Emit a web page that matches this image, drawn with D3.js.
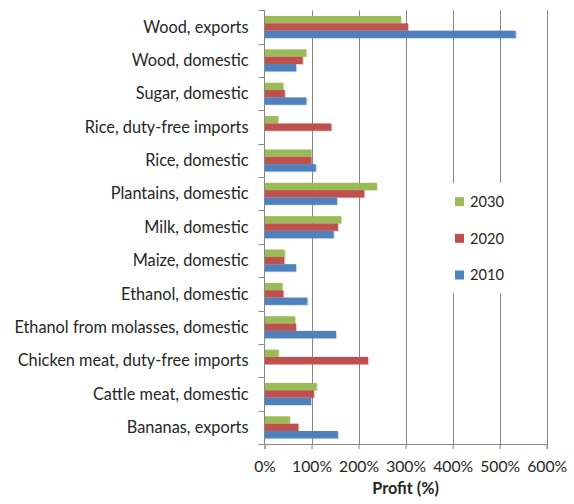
<!DOCTYPE html>
<html>
<head>
<meta charset="utf-8">
<script src="https://cdn.jsdelivr.net/npm/d3@7"></script>
<style>
  html, body { margin: 0; padding: 0; background: #fff; }
  svg { display: block; }
  text { font-family: Lato, "Open Sans", sans-serif; fill: #262626; }
</style>
</head>
<body>
<svg id="chart" width="574" height="504"></svg>
<script>
// Profit by product and year (%)
const categories = [
  "Wood, exports",
  "Wood, domestic",
  "Sugar, domestic",
  "Rice, duty-free imports",
  "Rice, domestic",
  "Plantains, domestic",
  "Milk, domestic",
  "Maize, domestic",
  "Ethanol, domestic",
  "Ethanol from molasses, domestic",
  "Chicken meat, duty-free imports",
  "Cattle meat, domestic",
  "Bananas, exports"
];
const years = ["2030", "2020", "2010"];
const values2030 = [290, 89, 40, 29, 100, 239, 163, 43, 38, 65, 30, 111, 54];
const values2020 = [305, 81, 43, 142, 100, 212, 156, 42, 40, 67, 220, 105, 72];
const values2010 = [534, 67, 89, null, 109, 154, 147, 67, 91, 152, null, 99, 156];
const xTicks = [0, 100, 200, 300, 400, 500, 600];
const colors = { "2030": "#9BBB59", "2020": "#C0504D", "2010": "#4F81BD" };
const axisTitle = "Profit (%)";

const seriesValues = { "2030": values2030, "2020": values2020, "2010": values2010 };

const svg = d3.select("#chart");
const plot = { left: 264.5, right: 546.7, top: 10.3, bottom: 444 };

const x = d3.scaleLinear().domain([0, 600]).range([plot.left, plot.right]);
const y0 = d3.scaleBand().domain(categories).range([plot.top, plot.bottom]).padding(0);
const step = y0.step();
const y1 = d3.scaleBand().domain(years).range([step * 0.17, step * 0.83]).padding(0);

// fit a text group to a target width
function fitFont(sel, longest, target, base) {
  const probe = svg.append("text").style("font-size", base + "px").text(longest);
  const w = probe.node().getComputedTextLength();
  probe.remove();
  return base * target / w;
}

// gridlines
svg.append("g").selectAll("line")
  .data(xTicks.slice(1))
  .join("line")
  .attr("x1", d => Math.round(x(d)) + 0.5).attr("x2", d => Math.round(x(d)) + 0.5)
  .attr("y1", plot.top).attr("y2", plot.bottom)
  .attr("stroke", "#878787").attr("stroke-width", 1);

// bars
const rows = categories.map((c, i) => ({
  category: c,
  bars: years.map(yr => ({ year: yr, value: seriesValues[yr][i] })).filter(b => b.value != null)
}));

const groups = svg.append("g").selectAll("g")
  .data(rows)
  .join("g")
  .attr("transform", d => `translate(0,${y0(d.category)})`);

groups.selectAll("rect.shadow")
  .data(d => d.bars)
  .join("rect")
  .attr("class", "shadow")
  .attr("x", x(0))
  .attr("y", d => y1(d.year) + 0.8)
  .attr("width", d => x(d.value) - x(0) + 1.2)
  .attr("height", y1.bandwidth())
  .attr("fill", d => colors[d.year])
  .attr("opacity", 0.3);

groups.selectAll("rect.bar")
  .data(d => d.bars)
  .join("rect")
  .attr("class", "bar")
  .attr("x", x(0))
  .attr("y", d => y1(d.year))
  .attr("width", d => x(d.value) - x(0))
  .attr("height", y1.bandwidth())
  .attr("fill", d => colors[d.year]);

// left axis with ticks at category boundaries
const leftAxis = svg.append("g");
leftAxis.append("line")
  .attr("x1", plot.left).attr("x2", plot.left)
  .attr("y1", plot.top).attr("y2", plot.bottom)
  .attr("stroke", "#878787");
const boundaries = categories.map(c => y0(c)).concat([plot.bottom]);
leftAxis.selectAll("line.tick")
  .data(boundaries)
  .join("line")
  .attr("class", "tick")
  .attr("x1", plot.left - 6).attr("x2", plot.left)
  .attr("y1", d => Math.round(d) + 0.5).attr("y2", d => Math.round(d) + 0.5)
  .attr("stroke", "#878787");

const catSize = fitFont(svg, "Chicken meat, duty-free imports", 231, 14);
leftAxis.selectAll("text")
  .data(categories)
  .join("text")
  .attr("x", 248.5)
  .attr("y", d => y0(d) + step / 2)
  .attr("dy", "0.35em")
  .attr("text-anchor", "end")
  .style("font-size", catSize + "px")
  .text(d => d);

// bottom axis
const tickSize = fitFont(svg, "600%", 40, 14);
const bottom = svg.append("g")
  .attr("transform", `translate(0,${plot.bottom})`)
  .call(d3.axisBottom(x).tickValues(xTicks).tickFormat(d => d + "%").tickSize(5).tickPadding(12));
bottom.select(".domain").attr("stroke", "#878787");
bottom.selectAll(".tick line").attr("stroke", "#878787");
bottom.selectAll(".tick text")
  .style("font-family", "Lato, 'Open Sans', sans-serif")
  .style("font-size", tickSize + "px")
  .attr("fill", "#262626");

// axis title
const titleProbe = svg.append("text").style("font-size", "14px").style("font-weight", "bold").text(axisTitle);
const titleSize = 14 * 66.7 / titleProbe.node().getComputedTextLength();
titleProbe.remove();
svg.append("text")
  .attr("x", (plot.left + plot.right) / 2)
  .attr("y", 494)
  .attr("text-anchor", "middle")
  .style("font-size", titleSize + "px")
  .style("font-weight", "bold")
  .text(axisTitle);

// legend
const legend = svg.append("g");
legend.append("rect")
  .attr("x", 446).attr("y", 183).attr("width", 68).attr("height", 110)
  .attr("fill", "#fff");
const legSize = fitFont(svg, "2030", 34, 14);
const legendY = d3.scalePoint().domain(years).range([201.7, 275]);
const items = legend.selectAll("g.item")
  .data(years)
  .join("g")
  .attr("class", "item")
  .attr("transform", d => `translate(455,${legendY(d)})`);
items.append("rect")
  .attr("x", 0).attr("y", -4.5).attr("width", 9).attr("height", 9)
  .attr("fill", d => colors[d]);
items.append("text")
  .attr("x", 15).attr("y", 0).attr("dy", "0.36em")
  .style("font-size", legSize + "px")
  .text(d => d);
</script>
</body>
</html>
